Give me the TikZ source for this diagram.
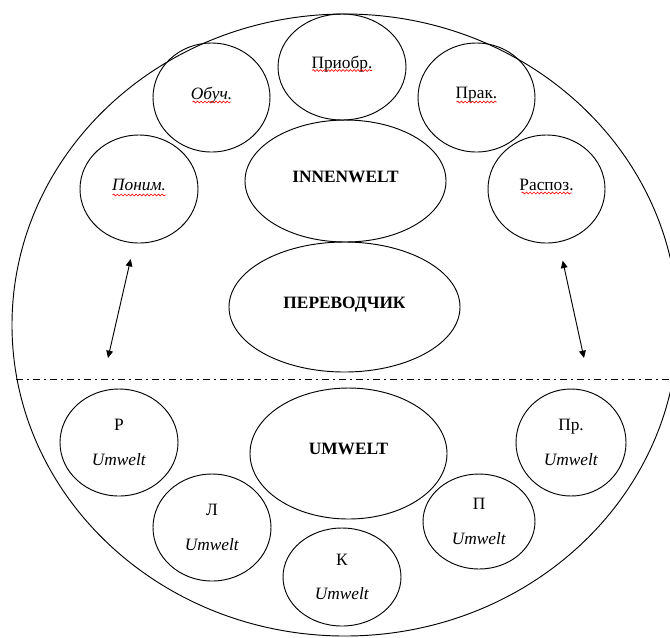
\documentclass[tikz,border=0pt]{standalone}
\usepackage{fontspec}
\setmainfont{Liberation Serif}
\usetikzlibrary{shapes.geometric,arrows.meta,decorations.pathmorphing}

\newcommand{\spell}[3]{\draw[spell] ([shift={(-#2,#3)}]#1.center) -- ++(2*#2,0);}

\begin{document}
\begin{tikzpicture}[x=0.75pt, y=-0.75pt,
        font=\fontsize{13}{26}\selectfont,
        bubble/.style={ellipse, draw, line width=0.7pt, inner sep=0pt, align=center,
                       minimum width=88.5pt, minimum height=81pt},
        oneline/.style={bubble, text depth=7pt},
        spell/.style={draw=red, line width=0.45pt, decorate,
                      decoration={snake, amplitude=0.7pt, segment length=2.8pt}},
        link/.style={<->, line width=0.7pt, >={Triangle[length=5.5pt, width=5pt]}}]
        \useasboundingbox (0,0) rectangle (670,637);

        \node[ellipse, draw, line width=0.7pt, minimum width=499.5pt, minimum height=466.5pt] (world) at (345,325) {};

        \node[oneline] (ponim) at (139,189) {\itshape Поним.};
        \node[oneline, minimum width=87.75pt, minimum height=81.75pt] (obuch) at (211.5,97.5) {\itshape Обуч.};
        \node[oneline, minimum width=96pt, minimum height=79.5pt] (priobr) at (342,67) {Приобр.};
        \node[oneline, minimum width=87.75pt, minimum height=81.75pt] (prak) at (476.5,97.5) {Прак.};
        \node[oneline, minimum width=87.75pt] (raspoz) at (546.5,189) {Распоз.};
        \node[oneline, minimum width=150.75pt, minimum height=91.5pt] (innen) at (345.5,181) {\textbf{INNENWELT}};
        \node[oneline, minimum width=173.25pt, minimum height=97.5pt] (perev) at (344.5,307) {\textbf{ПЕРЕВОДЧИК}};

        \spell{ponim}{26.5}{6}
        \spell{obuch}{19}{4.5}
        \spell{priobr}{30}{3.5}
        \spell{prak}{20}{4.5}
        \spell{raspoz}{25}{4}

        \node[oneline, minimum width=147.75pt, minimum height=98.25pt] (umwelt) at (348.5,453.5) {\textbf{UMWELT}};
        \node[bubble, minimum height=80.25pt] (r) at (119,442.5) {Р\\\textit{Umwelt}};
        \node[bubble, minimum height=80.25pt] (l) at (212,527.5) {Л\\\textit{Umwelt}};
        \node[bubble, minimum height=73.5pt] (k) at (342,577) {К\\\textit{Umwelt}};
        \node[bubble, minimum width=84pt, minimum height=71.25pt] (p) at (479,521.5) {П\\\textit{Umwelt}};
        \node[bubble, minimum width=82.5pt, minimum height=80.25pt] (pr) at (571,442.5) {Пр.\\\textit{Umwelt}};

        \coordinate (in-w) at (130.7,259);
        \coordinate (out-w) at (108,358);
        \coordinate (in-e) at (562.7,260.7);
        \coordinate (out-e) at (584,358);
        \draw[link] (out-w) -- (in-w);
        \draw[link] (in-e) -- (out-e);

        \coordinate (cut-w) at (16,379);
        \coordinate (cut-e) at (670,379);
        \draw[line width=0.6pt, dash pattern=on 5.25pt off 3pt on 1.5pt off 3pt] (cut-w) -- (cut-e);
    \end{tikzpicture}
\end{document}
